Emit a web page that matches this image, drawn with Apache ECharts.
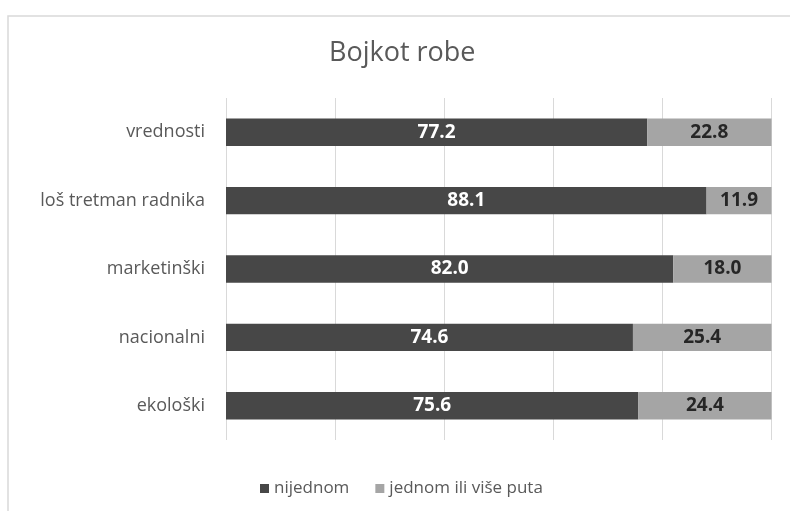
<!DOCTYPE html>
<html>
<head>
<meta charset="UTF-8">
<script src="https://cdn.jsdelivr.net/npm/echarts@6/dist/echarts.min.js"></script>
<style>
html, body { margin: 0; padding: 0; background: #fff; }
#chart { width: 790px; height: 511px; }
</style>
</head>
<body>
<div id="chart"></div>
<script>
// data, bottom to top as drawn
const categories = ['ekološki', 'nacionalni', 'marketinški', 'loš tretman radnika', 'vrednosti'];
const nijednom = [75.6, 74.6, 82.0, 88.1, 77.2];
const jednomIliVise = [24.4, 25.4, 18.0, 11.9, 22.8];
const seriesNames = ['nijednom', 'jednom ili više puta'];

const FONT = '"Open Sans", sans-serif';

const chart = echarts.init(document.getElementById('chart'));

chart.setOption({
    animation: false,
    backgroundColor: '#fff',
    title: {
        text: 'Bojkot robe',
        left: 324,
        top: 35,
        textStyle: {
            fontFamily: FONT,
            fontSize: 27,
            fontWeight: 'normal',
            color: '#595959'
        }
    },
    graphic: [{
        type: 'rect',
        shape: { x: 8, y: 16, width: 800, height: 600 },
        style: { fill: 'none', stroke: '#d9d9d9', lineWidth: 1.5 },
        silent: true
    }],
    legend: {
        data: seriesNames,
        left: 255,
        top: 475,
        icon: 'rect',
        itemWidth: 9,
        itemHeight: 9,
        itemGap: 26,
        textStyle: {
            fontFamily: FONT,
            fontSize: 17,
            color: '#595959'
        }
    },
    grid: {
        left: 226,
        right: 18.5,
        top: 98,
        bottom: 71,
        containLabel: false
    },
    xAxis: {
        type: 'value',
        min: 0,
        max: 100,
        interval: 20,
        axisLabel: { show: false },
        axisLine: { show: false },
        axisTick: { show: false },
        splitLine: { lineStyle: { color: '#d9d9d9', width: 1 } }
    },
    yAxis: {
        type: 'category',
        data: categories,
        axisLine: { show: false },
        axisTick: { show: false },
        axisLabel: {
            margin: 21,
            fontFamily: FONT,
            fontSize: 18,
            color: '#595959'
        }
    },
    series: [
        {
            name: seriesNames[0],
            type: 'bar',
            stack: 'total',
            barWidth: '40%',
            data: nijednom,
            itemStyle: { color: '#474747' },
            label: {
                show: true,
                position: 'inside',
                formatter: p => p.value.toFixed(1),
                fontFamily: FONT,
                fontSize: 19,
                fontWeight: 'bold',
                color: '#fff'
            }
        },
        {
            name: seriesNames[1],
            type: 'bar',
            stack: 'total',
            barWidth: '40%',
            data: jednomIliVise,
            itemStyle: { color: '#a5a5a5' },
            label: {
                show: true,
                position: 'inside',
                formatter: p => p.value.toFixed(1),
                fontFamily: FONT,
                fontSize: 19,
                fontWeight: 'bold',
                color: '#262626'
            }
        }
    ]
});
</script>
</body>
</html>
